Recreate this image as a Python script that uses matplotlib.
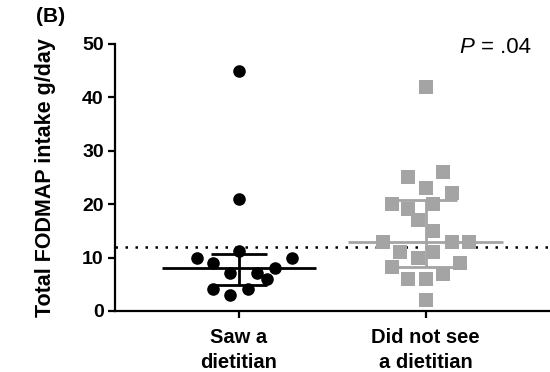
import numpy as np
import matplotlib.pyplot as plt

plt.rcParams['font.family'] = ['Liberation Sans', 'DejaVu Sans']

groupLabels = ["Saw a\ndietitian", "Did not see\na dietitian"]
sawValues = [45, 21, 10, 10, 11.3, 8.9, 7.2, 8.1, 7.1, 6.0, 4.2, 4.2, 3.0]
notSawValues = [42, 25, 26, 23, 22, 20, 20, 19, 17, 15, 13, 13, 13, 11, 11, 10, 8.2, 9, 6, 6, 7, 2]
sawCentre, sawLow, sawHigh = 8.0, 4.9, 10.6
notSawCentre, notSawLow, notSawHigh = 13.0, 8.2, 20.8
cutoff = 12
yTicks = [0, 10, 20, 30, 40, 50]
pText = "= .04"

# swarm offsets (layout only)
sawOffsets = [0, 0, -0.227, 0.283, 0, -0.138, -0.048, 0.193, 0.095, 0.149, -0.138, 0.05, -0.048]
notSawOffsets = [0, -0.092, 0.095, 0, 0.14, -0.181, 0.042, -0.092, -0.039, 0.042, -0.229, 0.14, 0.235,
                 -0.137, 0.042, -0.039, -0.181, 0.185, -0.092, 0, 0.095, 0]

grey = "#a4a4a4"

fig = plt.figure(figsize=(5.5, 3.72), dpi=100)
ax = fig.add_axes([0.209, 0.164, 0.791, 0.718])

ax.scatter(1 + np.array(sawOffsets), sawValues, s=82, marker="o", color="black", linewidths=0, zorder=3)
ax.scatter(2 + np.array(notSawOffsets), notSawValues, s=92, marker="s", color=grey, linewidths=0, zorder=3)

# mean lines and error bars
ax.hlines(sawCentre, 1 - 0.415, 1 + 0.415, color="black", lw=2, zorder=4)
ax.vlines(1, sawLow, sawHigh, color="black", lw=2, zorder=4)
ax.hlines([sawLow, sawHigh], 1 - 0.15, 1 + 0.15, color="black", lw=2, zorder=4)

ax.hlines(notSawCentre, 2 - 0.415, 2 + 0.415, color=grey, lw=2, zorder=4)
ax.vlines(2, notSawLow, notSawHigh, color=grey, lw=2, zorder=4)
ax.hlines([notSawLow, notSawHigh], 2 - 0.17, 2 + 0.17, color=grey, lw=2, zorder=4)

ax.axhline(cutoff, color="black", lw=1.8, linestyle=(0, (1, 3.0)), zorder=2)

ax.set_xlim(0.335, 2.667)
ax.set_ylim(0, 50)
ax.set_yticks(yTicks)
ax.set_xticks([1, 2])
ax.set_xticklabels(groupLabels, fontsize=14.5, fontweight="bold", linespacing=1.45)
for lbl in ax.get_yticklabels():
    lbl.set_fontweight("bold")
    lbl.set_fontsize(14)

for side in ["top", "right"]:
    ax.spines[side].set_visible(False)
for side in ["left", "bottom"]:
    ax.spines[side].set_linewidth(1.6)
ax.tick_params(width=1.6, length=5)
ax.tick_params(axis="y", pad=3)
ax.tick_params(axis="x", pad=7)

fig.text(0.083, 0.522, "Total FODMAP intake g/day", rotation=90, fontsize=15.5,
         fontweight="bold", ha="center", va="center")
fig.text(0.066, 0.98, "(B)", fontsize=15, fontweight="bold", ha="left", va="top")
fig.text(0.836, 0.873, "P", fontsize=16, style="italic", ha="left", va="center")
fig.text(0.874, 0.873, pText, fontsize=16, ha="left", va="center")

fig.savefig("out.png", dpi=100)
